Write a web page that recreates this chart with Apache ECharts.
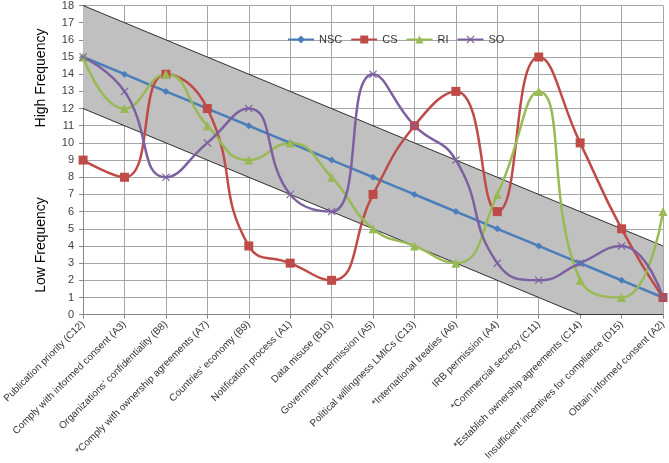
<!DOCTYPE html>
<html><head><meta charset="utf-8">
<script src="https://cdn.jsdelivr.net/npm/echarts@6/dist/echarts.min.js"></script>
<style>html,body{margin:0;padding:0;background:#fff}#c{width:669px;height:463px}</style>
</head><body><div id="c"></div>
<script>
const categories = [
  "Publication priority (C12)",
  "Comply with informed consent (A3)",
  "Organizations' confidentiality (B8)",
  "*Comply with ownership agreements (A7)",
  "Countries' economy (B9)",
  "Notification process (A1)",
  "Data misuse (B10)",
  "Government permission (A5)",
  "Political willingness LMICs (C13)",
  "*International treaties (A6)",
  "IRB permission (A4)",
  "*Commercial secrecy (C11)",
  "*Establish ownership agreements (C14)",
  "Insufficient incentives for compliance (D15)",
  "Obtain informed consent (A2)"
];
const NSC = [15,14,13,12,11,10,9,8,7,6,5,4,3,2,1];
const CS  = [9,8,14,12,4,3,2,7,11,13,6,15,10,5,1];
const RI  = [15,12,14,11,9,10,8,5,4,3,7,13,2,1,6];
const SO  = [15,13,8,10,12,7,6,14,11,9,3,2,3,4,1];
const bandUpper = [18,17,16,15,14,13,12,11,10,9,8,7,6,5,4];
const bandLower = [12,11,10,9,8,7,6,5,4,3,2,1,0,0,0];
const yTicks = [0,1,2,3,4,5,6,7,8,9,10,11,12,13,14,15,16,17,18];

const FONT = "'Liberation Sans Narrow','Liberation Sans',Arial,sans-serif";
const crossPath = 'path://M1,0 L5,4 L9,0 L10,1 L6,5 L10,9 L9,10 L5,6 L1,10 L0,9 L4,5 L0,1 Z';

const chart = echarts.init(document.getElementById('c'), null, {renderer:'canvas'});
const mk = (name, data, color, symbol, size) => ({
  name, type:'line', data, smooth:0.5, symbol, symbolSize:size,
  itemStyle:{color}, lineStyle:{color, width:2.5}, z:5
});
chart.setOption({
  animation:false,
  textStyle:{fontFamily:FONT},
  grid:{left:76, right:6, top:4, bottom:145},
  legend:{
    data:['NSC','CS','RI','SO'], left:282, top:29, itemWidth:26, itemHeight:10, itemGap:8,
    textStyle:{fontSize:11, color:'#333', fontFamily:FONT}
  },
  xAxis:{
    type:'category', data:categories, boundaryGap:false,
    axisLine:{lineStyle:{color:'#888'}},
    axisTick:{show:true, length:4, lineStyle:{color:'#888'}},
    splitLine:{show:true, lineStyle:{color:'#a6a6a6', width:1}},
    axisLabel:{rotate:45, fontSize:10, color:'#333', interval:0, margin:8, fontFamily:FONT}
  },
  yAxis:{
    type:'value', min:0, max:18, interval:1,
    axisLine:{show:true, lineStyle:{color:'#888'}},
    axisTick:{show:true, length:4, lineStyle:{color:'#888'}},
    splitLine:{lineStyle:{color:'#a6a6a6', width:1}},
    axisLabel:{fontSize:11, color:'#404040', margin:9, fontFamily:FONT,
      formatter:v => yTicks.includes(v) ? String(v) : ''}
  },
  graphic:[
    {type:'text', x:41, y:78, rotation:Math.PI/2, style:{text:'High Frequency', font:'14px '+FONT, fill:'#000', align:'center', verticalAlign:'middle'}},
    {type:'text', x:41, y:245, rotation:Math.PI/2, style:{text:'Low Frequency', font:'14px '+FONT, fill:'#000', align:'center', verticalAlign:'middle'}}
  ],
  series:[
    {name:'bandLow', type:'line', data:bandLower, stack:'band', symbol:'none', smooth:false,
      lineStyle:{color:'#000', width:0.8}, z:2, silent:true},
    {name:'bandHigh', type:'line', data:bandUpper.map((v,i)=>v-bandLower[i]), stack:'band', symbol:'none', smooth:false,
      lineStyle:{color:'#000', width:0.8}, areaStyle:{color:'#c0c0c0', opacity:1}, z:2, silent:true},
    mk('NSC', NSC, '#4A7EBB', 'diamond', 7),
    mk('CS', CS, '#BE4B48', 'rect', 9),
    mk('RI', RI, '#98B954', 'triangle', 9),
    mk('SO', SO, '#7D60A0', crossPath, 8)
  ]
});
</script></body></html>
